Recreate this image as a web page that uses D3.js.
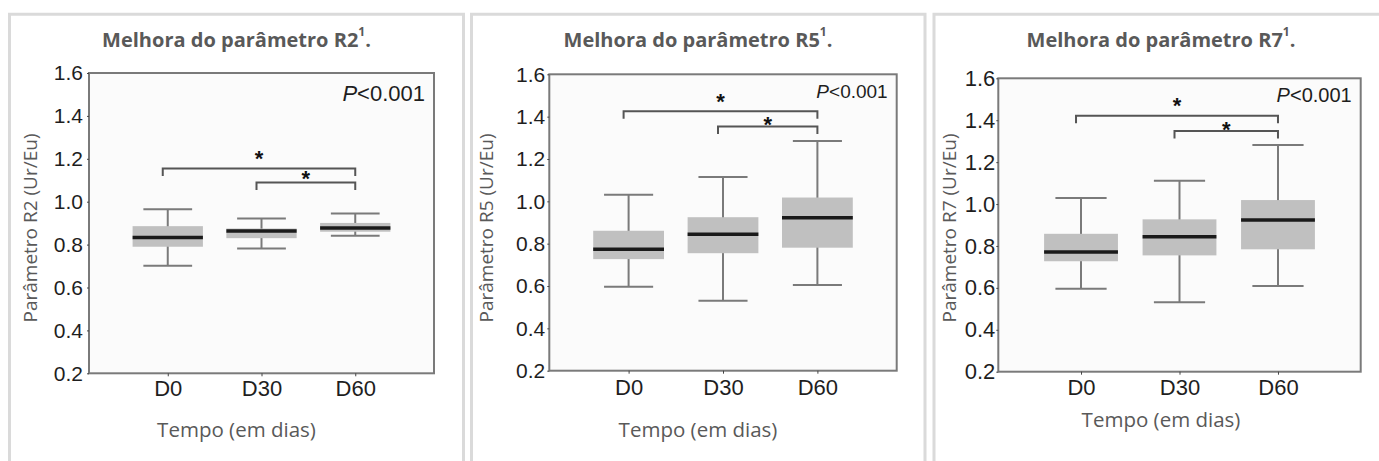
<!DOCTYPE html>
<html><head><meta charset="utf-8">
<script src="https://cdn.jsdelivr.net/npm/d3@7"></script>
<style>
html,body{margin:0;padding:0;background:#fff;overflow:hidden}
svg{display:block}
</style></head><body>
<svg id="chart" width="1379" height="461"></svg>
<script>
// ---------- data ----------
const categories = ["D0", "D30", "D60"];
const titleTexts = ["Melhora do parâmetro R2", "Melhora do parâmetro R5", "Melhora do parâmetro R7"];
const titleSup = "1";
const yAxisTitles = ["Parâmetro R2 (Ur/Eu)", "Parâmetro R5 (Ur/Eu)", "Parâmetro R7 (Ur/Eu)"];
const xAxisTitle = "Tempo (em dias)";
const yTickValues = [0.2, 0.4, 0.6, 0.8, 1.0, 1.2, 1.4, 1.6];
const pValueItalic = "P";
const pValueRest = "<0.001";
const starLabel = "*";

// [lower whisker, Q1, median, Q3, upper whisker] per category
const r2Stats = [[0.701, 0.790, 0.833, 0.886, 0.965],
                 [0.782, 0.830, 0.863, 0.875, 0.922],
                 [0.841, 0.860, 0.877, 0.901, 0.945]];
const r5Stats = [[0.597, 0.727, 0.774, 0.861, 1.031],
                 [0.530, 0.755, 0.845, 0.925, 1.115],
                 [0.605, 0.781, 0.923, 1.018, 1.285]];
const r7Stats = [[0.596, 0.727, 0.771, 0.858, 1.029],
                 [0.531, 0.755, 0.844, 0.927, 1.111],
                 [0.609, 0.784, 0.924, 1.019, 1.282]];

// significance brackets: [from, to, bracket level, star level]
const r2Brackets = [["D0", "D60", 1.155, 1.227], ["D30", "D60", 1.090, 1.130]];
const r5Brackets = [["D0", "D60", 1.425, 1.496], ["D30", "D60", 1.354, 1.386]];
const r7Brackets = [["D0", "D60", 1.421, 1.496], ["D30", "D60", 1.348, 1.380]];

const allStats = [r2Stats, r5Stats, r7Stats];
const allBrackets = [r2Brackets, r5Brackets, r7Brackets];

// ---------- layout ----------
const layouts = [
  {bx0: 9.5, bx1: 463.5, cx: 236.5, l: 89, r: 434, t: 73, b: 373.3, yTitleX: 37.3, xTitleY: 436.7, yPad: 4, xPad: 4, pSize: 22, pY: 101, tickFont: 21, xFont: 22},
  {bx0: 471.5, bx1: 925, cx: 698, l: 549.3, r: 896.7, t: 74.3, b: 370.7, yTitleX: 493.3, xTitleY: 436.5, yPad: 2, xPad: 6, pSize: 19, pY: 98, tickFont: 21, xFont: 22},
  {bx0: 934, bx1: 1395, cx: 1161, l: 998.3, r: 1360.7, t: 78.3, b: 371.7, yTitleX: 956.3, xTitleY: 427, yPad: 1, xPad: 5, pSize: 20, pY: 101.5, tickFont: 22, xFont: 22}
];

const svg = d3.select("#chart");
svg.append("rect").attr("width", 1379).attr("height", 461).attr("fill", "#fff");

const uiFont = "'Open Sans', Lato, sans-serif";
const plotFont = "'Liberation Sans', Arial, sans-serif";

layouts.forEach((L, i) => {
  const g = svg.append("g");
  const stats = allStats[i];

  // panel border (no bottom edge visible)
  g.append("path")
    .attr("d", `M${L.bx0},475 V14.3 H${L.bx1} V475`)
    .attr("fill", "none").attr("stroke", "#dadada").attr("stroke-width", 3);

  // title
  const title = g.append("text")
    .attr("x", L.cx).attr("y", 46.7)
    .attr("text-anchor", "middle")
    .attr("font-family", uiFont).attr("font-weight", "bold")
    .attr("font-size", 20).attr("fill", "#595959");
  title.append("tspan").text(titleTexts[i]);
  title.append("tspan").attr("font-size", 12).attr("dy", -11).text(titleSup);
  title.append("tspan").attr("dy", 11).text(".");

  const y = d3.scaleLinear().domain([0.2, 1.6]).range([L.b, L.t]);
  const x = d3.scalePoint().domain(categories).range([L.l, L.r]).padding(0.84);
  const step = x.step();

  // plot background
  g.append("rect")
    .attr("x", L.l).attr("y", L.t).attr("width", L.r - L.l).attr("height", L.b - L.t)
    .attr("fill", "#fbfbfb");

  // boxes
  const boxW = step * 0.75, capW = step * 0.52;
  const bg = g.selectAll("g.box").data(categories.map((c, k) => ({c, s: stats[k]})))
    .enter().append("g").attr("class", "box");
  bg.append("line")
    .attr("x1", d => x(d.c)).attr("x2", d => x(d.c))
    .attr("y1", d => y(d.s[0])).attr("y2", d => y(d.s[4]))
    .attr("stroke", "#7a7a7a").attr("stroke-width", 2);
  bg.append("line")
    .attr("x1", d => x(d.c) - capW / 2).attr("x2", d => x(d.c) + capW / 2)
    .attr("y1", d => y(d.s[0])).attr("y2", d => y(d.s[0]))
    .attr("stroke", "#7a7a7a").attr("stroke-width", 2);
  bg.append("line")
    .attr("x1", d => x(d.c) - capW / 2).attr("x2", d => x(d.c) + capW / 2)
    .attr("y1", d => y(d.s[4])).attr("y2", d => y(d.s[4]))
    .attr("stroke", "#7a7a7a").attr("stroke-width", 2);
  bg.append("rect")
    .attr("x", d => x(d.c) - boxW / 2).attr("width", boxW)
    .attr("y", d => y(d.s[3])).attr("height", d => y(d.s[1]) - y(d.s[3]))
    .attr("fill", "#c0c0c0");
  bg.append("line")
    .attr("x1", d => x(d.c) - boxW / 2).attr("x2", d => x(d.c) + boxW / 2)
    .attr("y1", d => y(d.s[2])).attr("y2", d => y(d.s[2]))
    .attr("stroke", "#1a1a1a").attr("stroke-width", 3.5);

  // frame
  g.append("rect")
    .attr("x", L.l).attr("y", L.t).attr("width", L.r - L.l).attr("height", L.b - L.t)
    .attr("fill", "none").attr("stroke", "#7a7a7a").attr("stroke-width", 2);

  // axes
  const ya = g.append("g").attr("transform", `translate(${L.l},0)`)
    .call(d3.axisLeft(y).tickValues(yTickValues).tickFormat(d3.format(".1f")).tickSize(2).tickPadding(L.yPad));
  ya.select(".domain").remove();
  ya.selectAll("line").attr("stroke", "#444");
  ya.selectAll("text").attr("font-family", plotFont).attr("font-size", L.tickFont).attr("fill", "#1e1e1e");

  const xa = g.append("g").attr("transform", `translate(0,${L.b})`)
    .call(d3.axisBottom(x).tickSize(3).tickPadding(L.xPad));
  xa.select(".domain").remove();
  xa.selectAll("line").attr("stroke", "#444");
  xa.selectAll("text").attr("font-family", plotFont).attr("font-size", L.xFont).attr("fill", "#1e1e1e");

  // axis titles
  g.append("text")
    .attr("transform", `translate(${L.yTitleX},228) rotate(-90)`)
    .attr("text-anchor", "middle")
    .attr("font-family", uiFont).attr("font-size", 19).attr("fill", "#595959")
    .text(yAxisTitles[i]);
  g.append("text")
    .attr("x", L.cx).attr("y", L.xTitleY)
    .attr("text-anchor", "middle")
    .attr("font-family", uiFont).attr("font-size", 20.5).attr("fill", "#595959")
    .text(xAxisTitle);

  // p-value
  const pt = g.append("text")
    .attr("x", L.r - 9).attr("y", L.pY)
    .attr("text-anchor", "end")
    .attr("font-family", plotFont).attr("font-size", L.pSize).attr("fill", "#1e1e1e");
  pt.append("tspan").attr("font-style", "italic").text(pValueItalic);
  pt.append("tspan").text(pValueRest);

  // brackets + stars
  const drop = 7.5, leftOff = 5;
  allBrackets[i].forEach(([a, b, lvl, starLvl]) => {
    const x1 = x(a) - leftOff, x2 = x(b), yy = y(lvl);
    g.append("path")
      .attr("d", `M${x1},${yy + drop} V${yy} H${x2} V${yy + drop}`)
      .attr("fill", "none").attr("stroke", "#555").attr("stroke-width", 2);
    g.append("text")
      .attr("x", (x1 + x2) / 2).attr("y", y(starLvl) + 12.5)
      .attr("text-anchor", "middle")
      .attr("font-family", plotFont).attr("font-weight", "bold").attr("font-size", 22)
      .attr("fill", "#111")
      .text(starLabel);
  });
});
</script>
</body></html>
